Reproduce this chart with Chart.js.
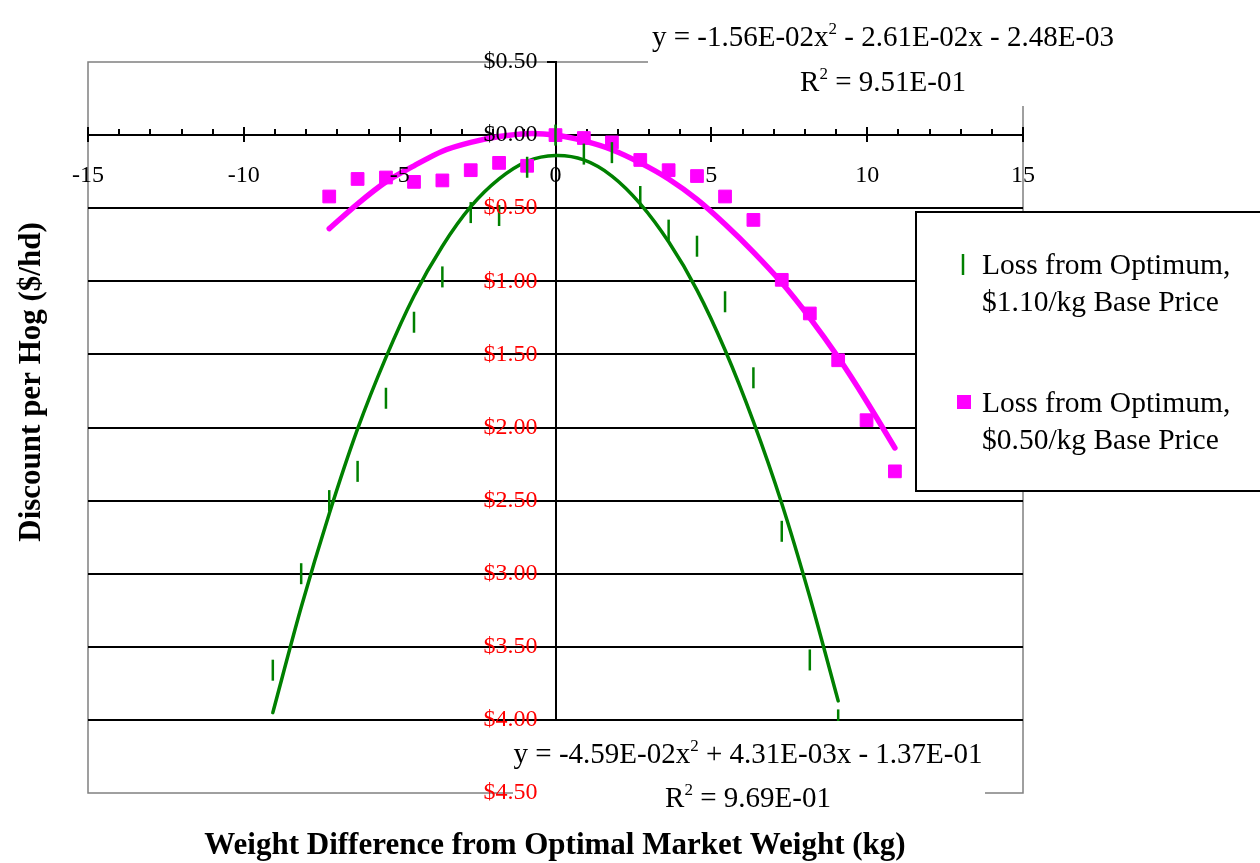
<!DOCTYPE html>
<html>
<head>
<meta charset="utf-8">
<script src="https://cdn.jsdelivr.net/npm/chart.js@4.4.1/dist/chart.umd.min.js"></script>
<style>
html,body{margin:0;padding:0;background:#fff;}
#wrap{width:1260px;height:863px;position:relative;overflow:hidden;}
</style>
</head>
<body>
<div id="wrap"><canvas id="c" width="1260" height="863"></canvas></div>
<script>
// ---------- data ----------
const xTickValues = [-15, -10, -5, 0, 5, 10, 15];
const yTickValues = [0.5, 0, -0.5, -1, -1.5, -2, -2.5, -3, -3.5, -4, -4.5];

// Loss from Optimum, $1.10/kg Base Price
const highPriceX = [-9.07,-8.16,-7.26,-6.35,-5.44,-4.54,-3.63,-2.72,-1.81,-0.91,0,0.91,1.81,2.72,3.63,4.54,5.44,6.35,7.26,8.16,9.07];
const highPriceY = [-3.66,-3.00,-2.50,-2.30,-1.80,-1.28,-0.97,-0.53,-0.55,-0.22,0.00,-0.13,-0.12,-0.42,-0.65,-0.76,-1.14,-1.66,-2.71,-3.59,-4.00];
const highTrendY = [-3.95,-3.23,-2.59,-2.01,-1.52,-1.10,-0.76,-0.49,-0.30,-0.18,-0.14,-0.17,-0.28,-0.47,-0.73,-1.06,-1.47,-1.96,-2.52,-3.16,-3.87];

// Loss from Optimum, $0.50/kg Base Price
const lowPriceX = [-7.26,-6.35,-5.44,-4.54,-3.63,-2.72,-1.81,-0.91,0,0.91,1.81,2.72,3.63,4.54,5.44,6.35,7.26,8.16,9.07,9.98,10.89];
const lowPriceY = [-0.42,-0.30,-0.29,-0.32,-0.31,-0.24,-0.19,-0.21,0.00,-0.02,-0.05,-0.17,-0.24,-0.28,-0.42,-0.58,-0.99,-1.22,-1.54,-1.95,-2.30];
const lowTrendY = [-0.64,-0.47,-0.32,-0.21,-0.11,-0.05,-0.01,0.01,0.00,-0.04,-0.10,-0.19,-0.30,-0.44,-0.61,-0.80,-1.01,-1.25,-1.52,-1.82,-2.14];

const seriesLabels = [
  ["Loss from Optimum,", "$1.10/kg Base Price"],
  ["Loss from Optimum,", "$0.50/kg Base Price"]
];
const highEquation = [[{t:"y = -4.59E-02x"},{t:"2",sup:true},{t:" + 4.31E-03x - 1.37E-01"}],[{t:"R"},{t:"2",sup:true},{t:" = 9.69E-01"}]];
const lowEquation  = [[{t:"y = -1.56E-02x"},{t:"2",sup:true},{t:" - 2.61E-02x - 2.48E-03"}],[{t:"R"},{t:"2",sup:true},{t:" = 9.51E-01"}]];
const xTitle = "Weight Difference from Optimal Market Weight (kg)";
const yTitle = "Discount per Hog ($/hd)";

// ---------- styles ----------
const FONT = "'Liberation Serif', 'Times New Roman', serif";
const GREEN = '#008000';
const MAGENTA = '#FF00FF';

const pts = (xs, ys) => xs.map((x, i) => ({x: x, y: ys[i]}));

function drawRich(ctx, parts, cx, baseY, size) {
  const fMain = size + 'px ' + FONT;
  const fSup = Math.round(size * 0.6) + 'px ' + FONT;
  let w = 0;
  parts.forEach(p => { ctx.font = p.sup ? fSup : fMain; w += ctx.measureText(p.t).width; });
  let x = cx - w / 2;
  ctx.textAlign = 'left';
  ctx.textBaseline = 'alphabetic';
  parts.forEach(p => {
    ctx.font = p.sup ? fSup : fMain;
    ctx.fillText(p.t, x, p.sup ? baseY - size * 0.42 : baseY);
    x += ctx.measureText(p.t).width;
  });
}

const deco = {
  id: 'deco',
  beforeDraw(chart) {
    const {ctx, chartArea: a} = chart;
    ctx.save();
    ctx.fillStyle = '#fff';
    ctx.fillRect(0, 0, chart.width, chart.height);
    ctx.strokeStyle = '#808080';
    ctx.lineWidth = 1.5;
    ctx.strokeRect(a.left, a.top, a.right - a.left, a.bottom - a.top);
    ctx.restore();
  },
  beforeDatasetsDraw(chart) {
    const {ctx} = chart;
    const xs = chart.scales.x, ys = chart.scales.y;
    const y0 = Math.round(ys.getPixelForValue(0));
    ctx.save();
    ctx.strokeStyle = '#000';
    ctx.lineWidth = 2;
    for (let v = -15; v <= 15; v++) {
      const px = Math.round(xs.getPixelForValue(v));
      ctx.beginPath();
      if (v % 5 === 0) { ctx.moveTo(px, y0 - 8); ctx.lineTo(px, y0 + 7); }
      else { ctx.moveTo(px, y0 - 6); ctx.lineTo(px, y0); }
      ctx.stroke();
    }
    ctx.restore();
  },
  afterDatasetsDraw(chart) {
    const {ctx} = chart;
    ctx.save();
    // trendline equation labels
    ctx.fillStyle = '#fff';
    ctx.fillRect(648, 4, 472, 102);
    ctx.fillRect(513, 721, 472, 110);
    ctx.fillStyle = '#000';
    drawRich(ctx, lowEquation[0], 883, 46, 29);
    drawRich(ctx, lowEquation[1], 883, 91, 29);
    drawRich(ctx, highEquation[0], 748, 763, 29);
    drawRich(ctx, highEquation[1], 748, 807, 29);
    // legend
    ctx.fillStyle = '#fff';
    ctx.fillRect(916, 212, 400, 279);
    ctx.strokeStyle = '#000';
    ctx.lineWidth = 2;
    ctx.strokeRect(916, 212, 400, 279);
    ctx.strokeStyle = GREEN;
    ctx.lineWidth = 2.5;
    ctx.beginPath(); ctx.moveTo(963, 254); ctx.lineTo(963, 275); ctx.stroke();
    ctx.fillStyle = MAGENTA;
    ctx.fillRect(957, 395, 14, 14);
    ctx.fillStyle = '#000';
    ctx.font = '29.5px ' + FONT;
    ctx.textAlign = 'left';
    ctx.textBaseline = 'middle';
    ctx.fillText(seriesLabels[0][0], 982, 266);
    ctx.fillText(seriesLabels[0][1], 982, 303);
    ctx.fillText(seriesLabels[1][0], 982, 404);
    ctx.fillText(seriesLabels[1][1], 982, 441);
    ctx.restore();
  },
  afterDraw(chart) {
    const {ctx} = chart;
    ctx.save();
    ctx.fillStyle = '#000';
    ctx.font = 'bold 31px ' + FONT;
    ctx.textAlign = 'center';
    ctx.textBaseline = 'middle';
    ctx.fillText(xTitle, 555, 846);
    ctx.translate(32, 382);
    ctx.rotate(-Math.PI / 2);
    ctx.fillText(yTitle, 0, 0);
    ctx.restore();
  }
};

new Chart(document.getElementById('c'), {
  type: 'scatter',
  data: {
    datasets: [
      {
        label: seriesLabels[0].join(' '),
        data: pts(highPriceX, highPriceY),
        pointStyle: 'line', rotation: 90, pointRadius: 10.5,
        borderColor: GREEN, backgroundColor: GREEN, pointBorderWidth: 2.5,
        showLine: false
      },
      {
        label: seriesLabels[1].join(' '),
        data: pts(lowPriceX, lowPriceY),
        pointStyle: 'rect', pointRadius: 9,
        borderColor: MAGENTA, backgroundColor: MAGENTA, pointBorderWidth: 1,
        showLine: false
      },
      {
        label: 'trend high',
        data: pts(highPriceX, highTrendY),
        showLine: true, pointRadius: 0, borderColor: GREEN, borderWidth: 3.5,
        tension: 0.3, borderCapStyle: 'round', borderJoinStyle: 'round'
      },
      {
        label: 'trend low',
        data: pts(lowPriceX, lowTrendY),
        showLine: true, pointRadius: 0, borderColor: MAGENTA, borderWidth: 5.5,
        tension: 0.3, borderCapStyle: 'round', borderJoinStyle: 'round'
      }
    ]
  },
  options: {
    responsive: false,
    animation: false,
    devicePixelRatio: 1,
    layout: {padding: {left: 88, top: 62, right: 237, bottom: 70}},
    plugins: {legend: {display: false}, tooltip: {enabled: false}, title: {display: false}},
    scales: {
      x: {
        type: 'linear', position: {y: 0}, min: -15, max: 15,
        afterFit: s => { s.height = 0; },
        afterBuildTicks: s => { s.ticks = xTickValues.map(v => ({value: v})); },
        grid: {display: false, drawTicks: false},
        border: {display: true, color: '#000', width: 2},
        ticks: {font: {family: FONT, size: 24}, color: '#000', padding: 26, maxRotation: 0, autoSkip: false, z: 1,
                callback: v => String(v)}
      },
      y: {
        type: 'linear', position: {x: 0}, min: -4.5, max: 0.5,
        afterFit: s => { s.width = 0; },
        afterBuildTicks: s => { s.ticks = yTickValues.map(v => ({value: v})); },
        grid: {
          display: true, drawOnChartArea: true, drawTicks: true, tickLength: 8, lineWidth: 2,
          color: ctx => (ctx.tick && ctx.tick.value < -0.1 && ctx.tick.value > -4.4) ? '#000' : 'rgba(0,0,0,0)',
          tickColor: '#000', tickWidth: 2
        },
        border: {display: true, color: '#000', width: 2},
        ticks: {
          font: {family: FONT, size: 24}, padding: 0, autoSkip: false, z: 1,
          color: ctx => (ctx.tick && ctx.tick.value < 0) ? '#FF0000' : '#000',
          callback: v => '$' + Math.abs(v).toFixed(2) + '\u2002 '
        }
      }
    }
  },
  plugins: [deco]
});
</script>
</body>
</html>
